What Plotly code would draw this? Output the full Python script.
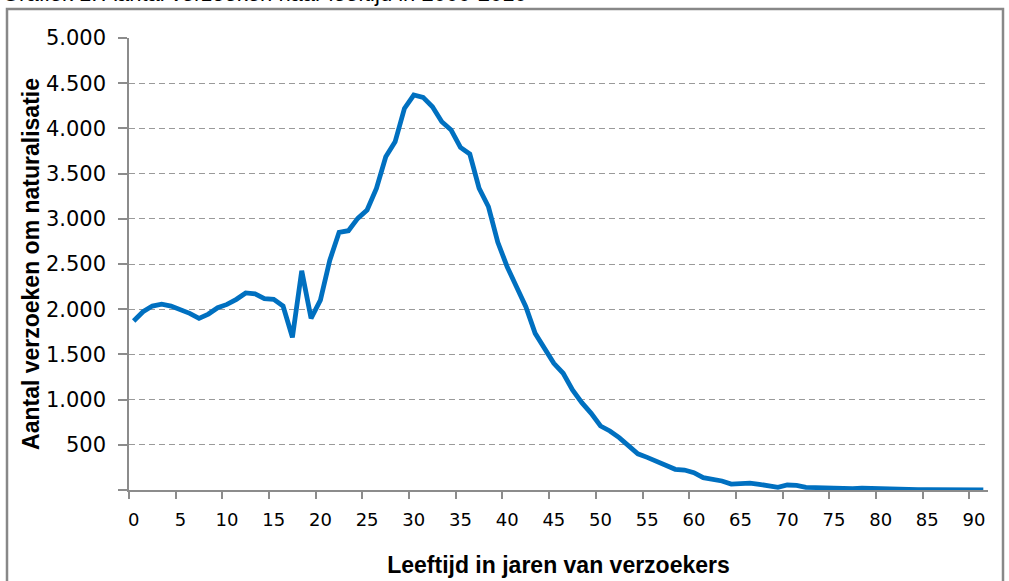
import plotly.graph_objects as go

# Data
ages = list(range(0, 92))
requests = [
    1870, 1972, 2035, 2055, 2035, 1998, 1954, 1899, 1946, 2017,
    2053, 2109, 2180, 2171, 2116, 2109, 2035, 1689, 2425, 1899,
    2101, 2540, 2850, 2868, 3005, 3097, 3337, 3686, 3852, 4221,
    4369, 4343, 4239, 4073, 3982, 3790, 3716, 3337, 3133, 2740,
    2470, 2249, 2027, 1733, 1567, 1401, 1291, 1106, 966, 848,
    708, 653, 579, 487, 400, 361, 313, 269, 229, 221,
    192, 136, 122, 100, 66, 74, 77, 63, 48, 30,
    55, 52, 30, 25, 33, 18, 22, 15, 20, 15,
    12, 12, 10, 5, 3, 3, 3, 2, 2, 2,
    2, 2,
]
x_tick_labels = [str(v) for v in range(0, 91, 5)]
y_tick_values = list(range(0, 5001, 500))
y_tick_labels = [""] + ["{:,}".format(v).replace(",", ".") for v in y_tick_values[1:]]

title_text = "Grafiek 1: Aantal verzoeken naar leeftijd in 2000-2010"
x_title = "Leeftijd in jaren van verzoekers"
y_title = "Aantal verzoeken om naturalisatie"

W, H = 1009, 581
L, R, T, B = 129, 988, 38, 490

fig = go.Figure()
fig.add_trace(go.Scatter(
    x=ages, y=requests, mode="lines",
    line=dict(color="#0070C0", width=4.8, shape="linear"),
    hoverinfo="x+y", showlegend=False,
))
# invisible trace on second x axis that carries the boundary tick marks
fig.add_trace(go.Scatter(x=[ages[0]], y=[requests[0]], xaxis="x2", mode="markers",
                         marker=dict(opacity=0), showlegend=False, hoverinfo="skip"))

grid = "#9a9a9a"
axis_col = "#8c8c8c"
fig.update_layout(
    width=W, height=H,
    margin=dict(l=L, r=W - R, t=T, b=H - B, pad=0, autoexpand=False),
    paper_bgcolor="white", plot_bgcolor="white",
    separators=",.",
    xaxis=dict(
        range=[-0.5, 91.5], tickmode="array",
        tickvals=list(range(0, 91, 5)), ticktext=x_tick_labels,
        ticks="", showgrid=False, zeroline=False,
        showline=True, linecolor=axis_col, linewidth=1.5,
        tickfont=dict(family="DejaVu Sans", size=18, color="#000"),
        ticklabelstandoff=13, automargin=False,
        title=dict(text="<b>" + x_title + "</b>", standoff=28,
                   font=dict(family="Liberation Sans", size=23, color="#000")),
        fixedrange=True,
    ),
    xaxis2=dict(
        range=[-0.5, 91.5], overlaying="x", side="bottom",
        tickmode="array", tickvals=[v - 0.5 for v in range(0, 91, 5)],
        ticktext=[""] * 19, ticks="outside", ticklen=8, tickwidth=1.5,
        tickcolor=axis_col, showgrid=False, zeroline=False, showline=False,
        anchor="y", automargin=False,
    ),
    yaxis=dict(
        range=[0, 5000], tickmode="array",
        tickvals=y_tick_values, ticktext=y_tick_labels,
        ticks="outside", ticklen=9, tickwidth=1.5, tickcolor=axis_col,
        showgrid=True, gridcolor=grid, gridwidth=1.3, griddash="6px,4px",
        zeroline=False, showline=True, linecolor=axis_col, linewidth=1.5,
        tickfont=dict(family="DejaVu Sans", size=21, color="#000"),
        ticklabelstandoff=8, automargin=False,
        title=dict(text="<b>" + y_title + "</b>", standoff=0,
                   font=dict(family="Liberation Sans", size=23, color="#000")),
        fixedrange=True,
    ),
)

# outer chart frame
pw, ph = R - L, B - T
fig.add_shape(type="rect", xref="paper", yref="paper",
              x0=(7 - L) / pw, x1=(1003 - L) / pw,
              y0=(B - 620) / ph, y1=(B - 9) / ph,
              line=dict(color="#888888", width=2.5), layer="below")

# title (cut off at the top of the picture, as in the reference)
fig.add_annotation(text=title_text, xref="paper", yref="paper",
                   x=(0 - L) / pw, y=(B - 8) / ph, xanchor="left", yanchor="bottom",
                   showarrow=False,
                   font=dict(family="Liberation Sans", size=22, color="#000"))

fig.write_html("out.html", config={"displayModeBar": False},
               post_script="document.body.style.margin='0';")
